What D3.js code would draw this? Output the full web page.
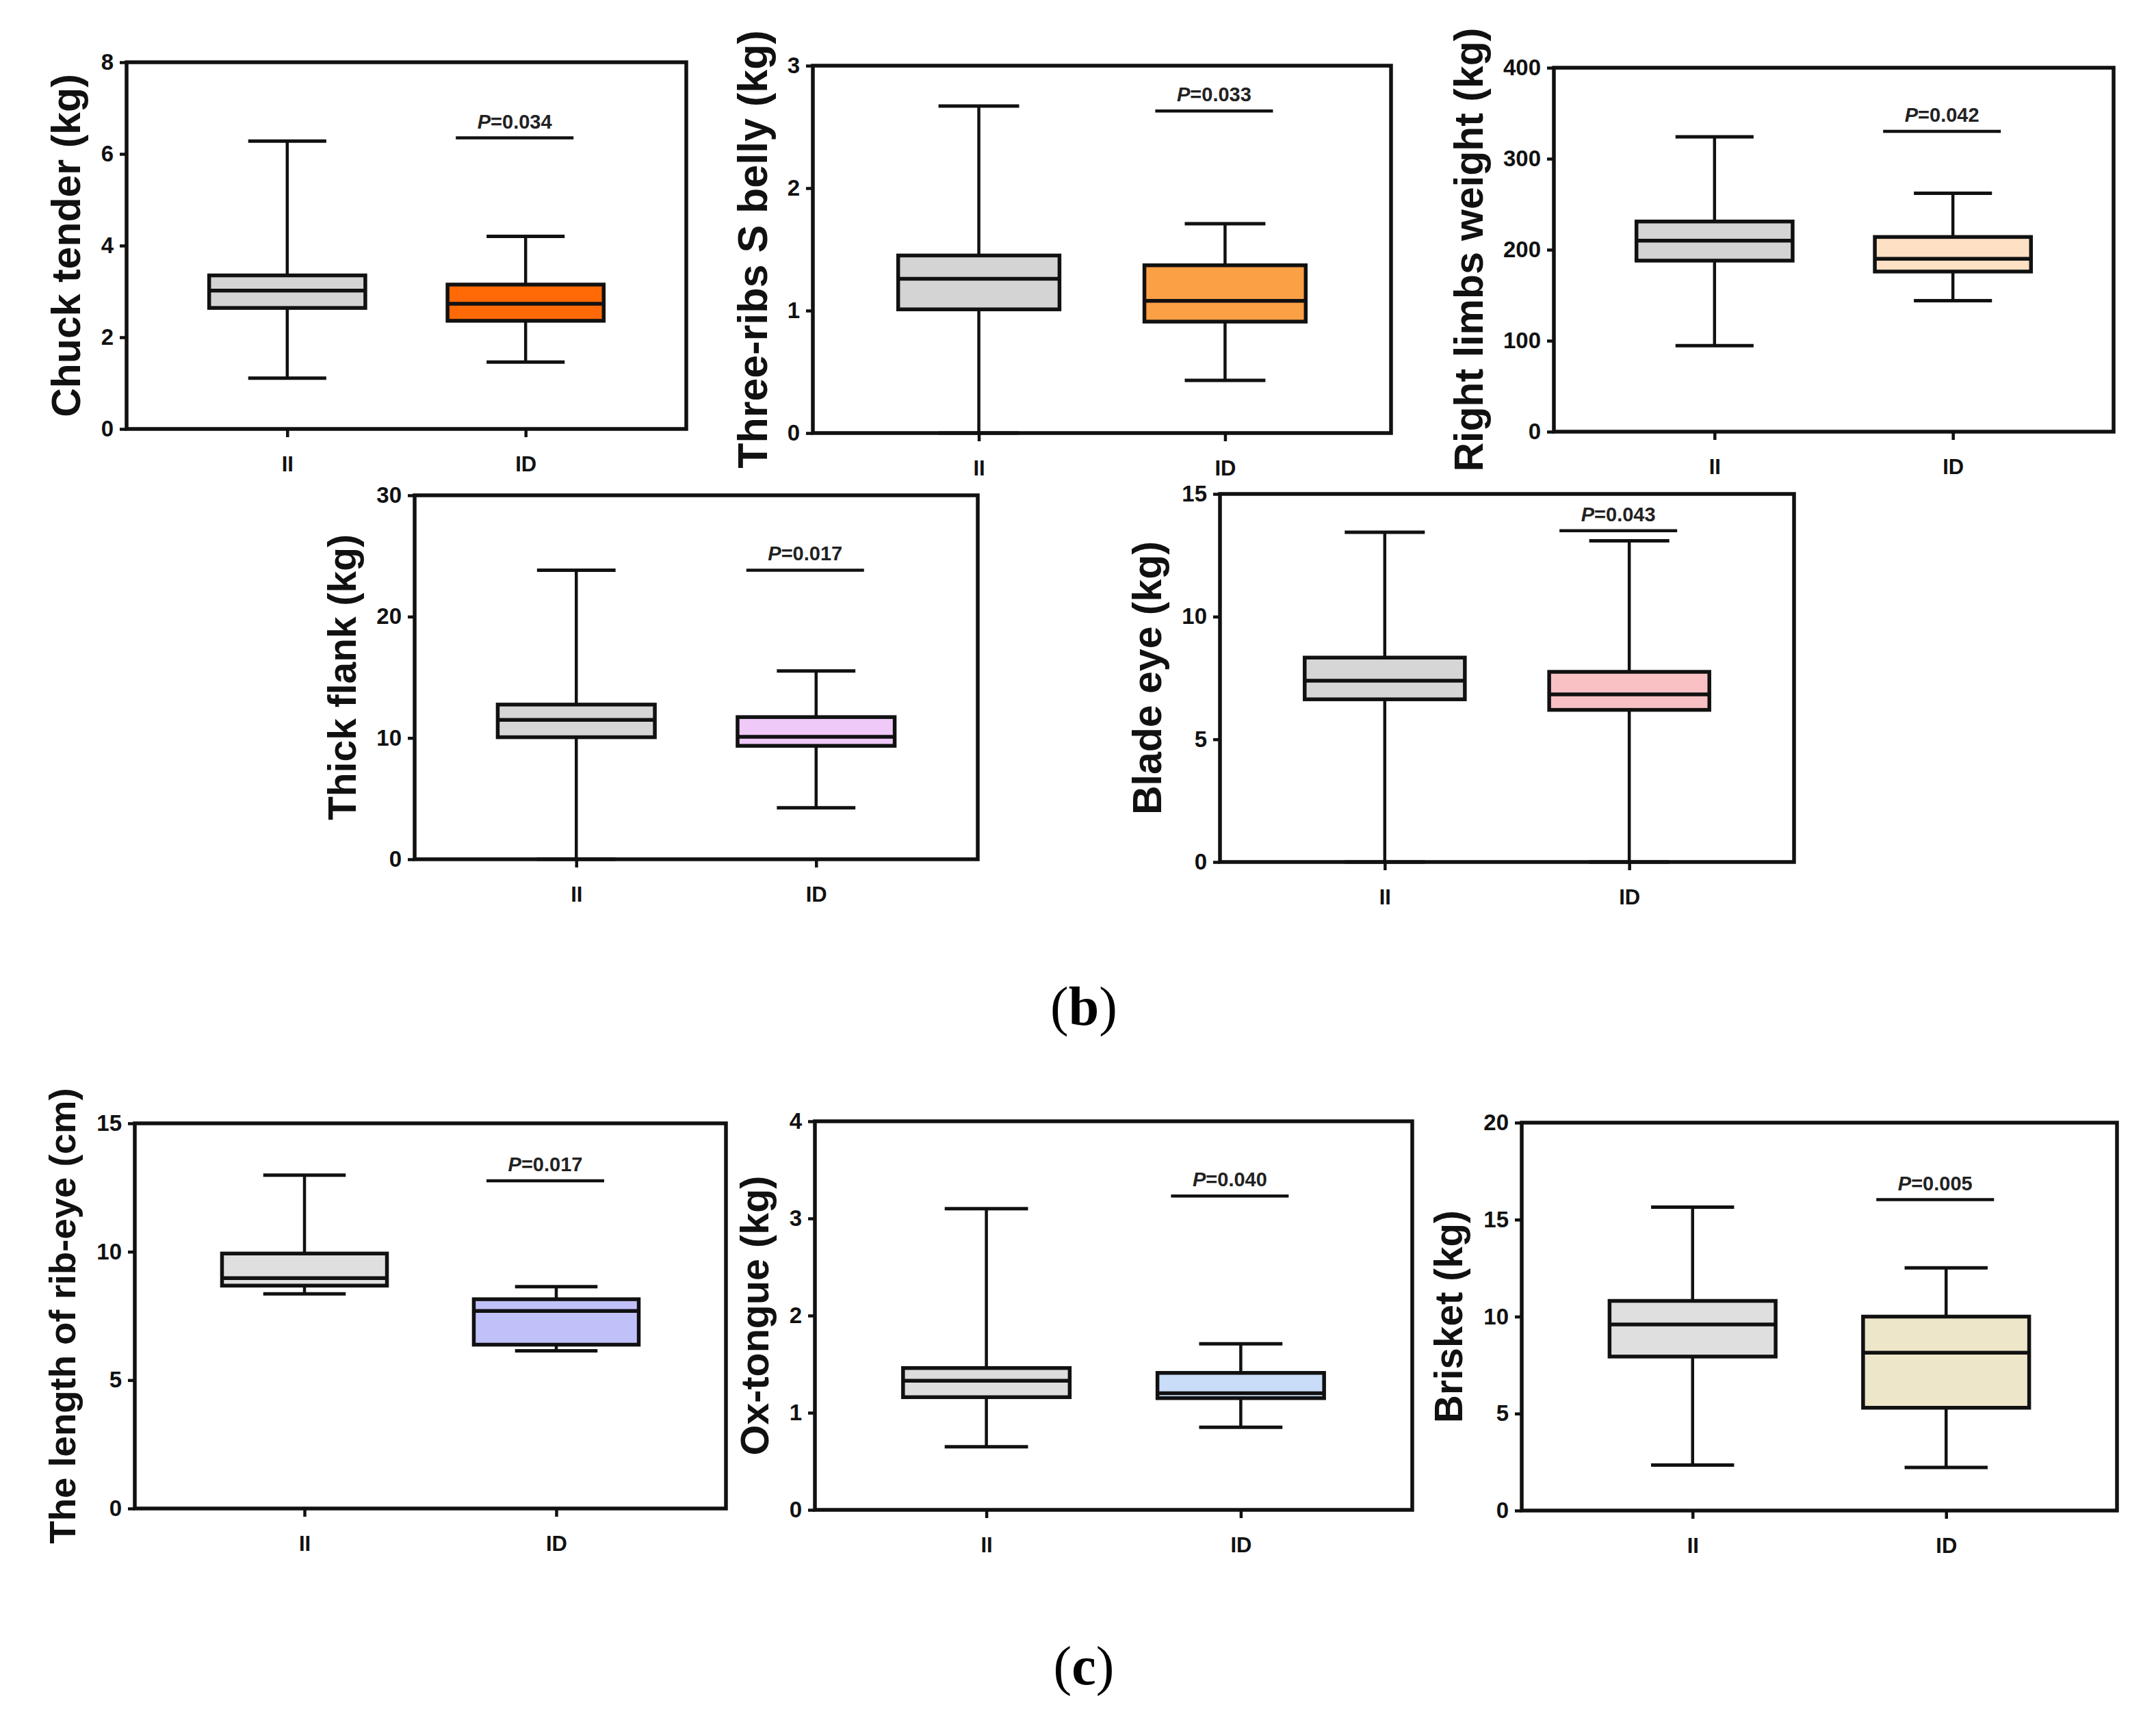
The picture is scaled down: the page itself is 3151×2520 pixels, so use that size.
<!DOCTYPE html>
<html>
<head>
<meta charset="utf-8">
<script src="https://cdn.jsdelivr.net/npm/d3@7"></script>
<style>
  body { margin: 0; background: #fff; }
  svg { display: block; }
</style>
</head>
<body>
<div id="chart"></div>
<script>
// groups on the x axis
var groups = ["II", "ID"];

var traits = [
  "Chuck tender (kg)",
  "Three-ribs S belly (kg)",
  "Right limbs weight (kg)",
  "Thick flank (kg)",
  "Blade eye (kg)",
  "The length of rib-eye (cm)",
  "Ox-tongue (kg)",
  "Brisket (kg)"
];

var yMax = [8, 3, 400, 30, 15, 15, 4, 20];
var yTicks = [
  [0, 2, 4, 6, 8],
  [0, 1, 2, 3],
  [0, 100, 200, 300, 400],
  [0, 10, 20, 30],
  [0, 5, 10, 15],
  [0, 5, 10, 15],
  [0, 1, 2, 3, 4],
  [0, 5, 10, 15, 20]
];

// [min, q1, median, q3, max]
var statsII = [
  [1.11, 2.64, 3.02, 3.35, 6.28],
  [0, 1.01, 1.26, 1.45, 2.67],
  [94.5, 188, 210, 231, 324],
  [0, 10.06, 11.49, 12.75, 23.83],
  [0, 6.63, 7.39, 8.33, 13.44],
  [8.36, 8.68, 8.97, 9.93, 12.98],
  [0.65, 1.16, 1.33, 1.46, 3.10],
  [2.35, 7.94, 9.59, 10.81, 15.64]
];
var statsID = [
  [1.46, 2.36, 2.73, 3.15, 4.20],
  [0.43, 0.91, 1.08, 1.37, 1.71],
  [144, 176, 190, 214, 262],
  [4.25, 9.35, 10.1, 11.72, 15.52],
  [0, 6.20, 6.83, 7.75, 13.09],
  [6.14, 6.38, 7.69, 8.15, 8.64],
  [0.85, 1.15, 1.20, 1.41, 1.71],
  [2.22, 5.30, 8.14, 10.0, 12.51]
];

var pValues = ["0.034", "0.033", "0.042", "0.017", "0.043", "0.017", "0.040", "0.005"];
var pBarAt = [6.35, 2.63, 330, 23.83, 13.5, 12.76, 3.23, 16.03];

// styling and layout (kept apart from the data)
var grayFill = ["#d4d4d4", "#d4d4d4", "#d4d4d4", "#d6d6d6", "#d6d6d6", "#dfdfdf", "#dddddd", "#dfdfdf"];
var idFill = ["#ff6a06", "#fba045", "#fee0c4", "#efc9f7", "#f9c1c4", "#c1c1fa", "#c9ddf8", "#eee6c8"];
var titleSize = [59, 61, 59, 57, 59, 54.5, 57.5, 56.5];

var frames = [
  {l: 185, r: 1003, t: 91, b: 627},
  {l: 1188, r: 2033, t: 96, b: 633},
  {l: 2271, r: 3089, t: 99, b: 631},
  {l: 606, r: 1429, t: 724, b: 1256},
  {l: 1783, r: 2622, t: 722, b: 1260},
  {l: 197, r: 1061, t: 1642, b: 2205},
  {l: 1191, r: 2064, t: 1639, b: 2207},
  {l: 2224, r: 3094, t: 1641, b: 2208}
];

var sans = "'Liberation Sans', Arial, Helvetica, sans-serif";
var ink = "#111";

var svg = d3.select("#chart")
  .append("svg")
    .attr("width", 3151)
    .attr("height", 2520)
    .style("background", "#fff");

traits.forEach(function(name, i) {
  var f = frames[i],
      w = f.r - f.l,
      h = f.b - f.t;

  var g = svg.append("g").attr("transform", "translate(" + f.l + "," + f.t + ")");

  var x = d3.scalePoint().domain(groups).range([0, w]).padding(0.674);
  var y = d3.scaleLinear().domain([0, yMax[i]]).range([h, 0]);
  var bw = 0.279 * w;

  // y axis
  var yAxis = g.append("g")
    .call(d3.axisLeft(y).tickValues(yTicks[i]).tickSize(10).tickPadding(9).tickFormat(d3.format("d")));
  yAxis.select(".domain").remove();
  yAxis.selectAll("line").attr("stroke", ink).attr("stroke-width", 4.5);
  yAxis.selectAll("text")
    .attr("font-family", sans).attr("font-weight", "bold").attr("font-size", 33).attr("fill", ink);

  // x axis
  var xAxis = g.append("g")
    .attr("transform", "translate(0," + h + ")")
    .call(d3.axisBottom(x).tickSize(12).tickPadding(28));
  xAxis.select(".domain").remove();
  xAxis.selectAll("line").attr("stroke", ink).attr("stroke-width", 4.5);
  xAxis.selectAll("text")
    .attr("font-family", sans).attr("font-weight", "bold").attr("font-size", 31).attr("fill", ink);

  // boxes
  groups.forEach(function(grp, j) {
    var s = j === 0 ? statsII[i] : statsID[i];
    var cx = x(grp);
    var box = g.append("g");
    box.append("line")
      .attr("x1", cx).attr("x2", cx).attr("y1", y(s[0])).attr("y2", y(s[1]))
      .attr("stroke", ink).attr("stroke-width", 4.5);
    box.append("line")
      .attr("x1", cx).attr("x2", cx).attr("y1", y(s[3])).attr("y2", y(s[4]))
      .attr("stroke", ink).attr("stroke-width", 4.5);
    [s[0], s[4]].forEach(function(v) {
      box.append("line")
        .attr("x1", cx - bw / 4).attr("x2", cx + bw / 4)
        .attr("y1", y(v)).attr("y2", y(v))
        .attr("stroke", ink).attr("stroke-width", 5);
    });
    box.append("rect")
      .attr("x", cx - bw / 2).attr("width", bw)
      .attr("y", y(s[3])).attr("height", y(s[1]) - y(s[3]))
      .attr("fill", j === 0 ? grayFill[i] : idFill[i])
      .attr("stroke", ink).attr("stroke-width", 5.5);
    box.append("line")
      .attr("x1", cx - bw / 2).attr("x2", cx + bw / 2)
      .attr("y1", y(s[2])).attr("y2", y(s[2]))
      .attr("stroke", ink).attr("stroke-width", 5.5);
  });

  // frame
  g.append("rect")
    .attr("width", w).attr("height", h)
    .attr("fill", "none").attr("stroke", ink).attr("stroke-width", 5.5);

  // significance bar
  var px = x("ID") - 16;
  g.append("line")
    .attr("x1", px - 86).attr("x2", px + 86)
    .attr("y1", y(pBarAt[i])).attr("y2", y(pBarAt[i]))
    .attr("stroke", ink).attr("stroke-width", 4.5);
  var pt = g.append("text")
    .attr("x", px).attr("y", y(pBarAt[i]) - 14)
    .attr("text-anchor", "middle")
    .attr("font-family", sans).attr("font-weight", "bold").attr("font-size", 29).attr("fill", "#222");
  pt.append("tspan").attr("font-style", "italic").text("P");
  pt.append("tspan").text("=" + pValues[i]);

  // y title
  var lw = d3.max(yAxis.selectAll("text").nodes(), function(n) { return n.getComputedTextLength(); });
  var tx = -(20 + lw + 44);
  g.append("text")
    .attr("transform", "translate(" + tx + "," + (h / 2) + ") rotate(-90)")
    .attr("text-anchor", "middle")
    .attr("dy", "0.25em")
    .attr("font-family", sans).attr("font-weight", "bold").attr("font-size", titleSize[i]).attr("fill", ink)
    .text(name);
});

// sub-figure letters
[{t: "b", y: 1498}, {t: "c", y: 2462}].forEach(function(d) {
  var lab = svg.append("text")
    .attr("x", 1584).attr("y", d.y)
    .attr("text-anchor", "middle")
    .attr("font-family", "'Liberation Serif', 'Times New Roman', serif")
    .attr("font-size", 80).attr("fill", "#000");
  lab.append("tspan").text("(");
  lab.append("tspan").attr("font-weight", "bold").text(d.t);
  lab.append("tspan").text(")");
});
</script>
</body>
</html>
